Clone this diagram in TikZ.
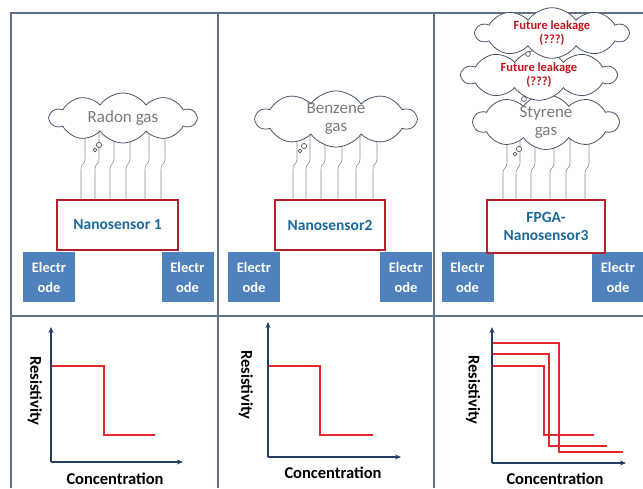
\documentclass[tikz,border=0pt]{standalone}
\usepackage{fontspec}
\setmainfont{Carlito}
\usetikzlibrary{shapes.symbols,arrows.meta,backgrounds}
\definecolor{framec}{HTML}{5F7285}
\definecolor{elec}{HTML}{4F81BD}
\definecolor{boxred}{HTML}{B3202A}
\definecolor{nanotxt}{HTML}{1B6A9E}
\definecolor{gastxt}{HTML}{7A7A7A}
\definecolor{cloudline}{HTML}{4A5668}
\definecolor{plotred}{HTML}{E5262C}
\definecolor{axisc}{HTML}{243F66}
\definecolor{leak}{HTML}{C0141B}
\definecolor{wirec}{HTML}{8C8C8C}
\begin{document}
\begin{tikzpicture}[x=1pt,y=-1pt,
  frame/.style={draw=framec,line width=1.2pt},
  cloudnode/.style={cloud,cloud puffs=10,cloud puff arc=110,cloud ignores aspect,draw=cloudline,line width=0.8pt,fill=white,
    text=gastxt,font=\fontsize{17}{18}\selectfont,inner sep=0pt,align=center},
  leaknode/.style={cloudnode,text=leak,font=\bfseries\fontsize{12.5}{14}\selectfont},
  bubble/.style={draw=cloudline,line width=0.7pt,fill=white},
  sensor/.style={draw=boxred,line width=2.2pt,fill=white,text=nanotxt,
    font=\bfseries\fontsize{15.5}{18}\selectfont,align=center,inner sep=0pt},
  electrode/.style={fill=elec,text=white,font=\bfseries\fontsize{14.5}{20}\selectfont,
    minimum width=52pt,minimum height=50pt,inner sep=0pt,align=center},
  wire/.style={draw=wirec,line width=0.6pt},
  axis/.style={draw=axisc,line width=1.3pt,-{Stealth[length=6pt,width=5pt]}},
  curve/.style={draw=plotred,line width=2.4pt},
  axlabel/.style={font=\bfseries\fontsize{16.5}{18}\selectfont,inner sep=0pt}]
\useasboundingbox (0,0) rectangle (643,488);

% frame
\draw[frame] (11,488) -- (11,13) -- (643,13);
\draw[frame] (218,13) -- (218,488);
\draw[frame] (434,13) -- (434,488);
\draw[frame] (11,316) -- (643,316);

% ---------- panel 1 ----------
\node[cloudnode,minimum width=146pt,minimum height=50pt] (c1) at (123,118) {Radon gas};
\draw[bubble] (99,145) circle (2.6);
\draw[bubble] (95,150) circle (1.8);
\node[electrode] (e1l) at (49,277) {Electr\\ode};
\node[electrode] (e1r) at (187.5,277) {Electr\\ode};
\node[sensor,minimum width=121pt,minimum height=50pt] (s1) at (117.5,225) {Nanosensor 1};
\begin{scope}[on background layer]
\foreach \x in {85,99,114,130,149,165}
  \draw[wire] (\x,0 |- c1.center) -- (\x,158) .. controls (\x,166) and ({\x-4},162) .. ({\x-4},170) -- ({\x-4},0 |- s1.north);
\end{scope}

% ---------- panel 2 ----------
\node[cloudnode,minimum width=160pt,minimum height=50pt] (c2) at (336,119) {Benzene\\gas};
\draw[bubble] (304,146) circle (2.6);
\draw[bubble] (300,151) circle (1.8);
\node[electrode] (e2l) at (254,277) {Electr\\ode};
\node[electrode] (e2r) at (406,277) {Electr\\ode};
\node[sensor,minimum width=110pt,minimum height=50pt] (s2) at (330,225) {Nanosensor2};
\begin{scope}[on background layer]
\foreach \x in {297,310,325,342,360,377}
  \draw[wire] (\x,0 |- c2.center) -- (\x,158) .. controls (\x,166) and ({\x-4},162) .. ({\x-4},170) -- ({\x-4},0 |- s2.north);
\end{scope}

% ---------- panel 3 ----------
\node[cloudnode,minimum width=145pt,minimum height=50pt] (c3) at (546,122) {Styrene\\gas};
\draw[bubble] (519,149) circle (2.6);
\draw[bubble] (515,154) circle (1.8);
\node[leaknode,minimum width=154pt,minimum height=44pt] (f2) at (539,75) {Future leakage\\(???)};
\draw[bubble] (524,99) circle (2.4);
\node[leaknode,minimum width=152pt,minimum height=40pt] (f1) at (552,33) {Future leakage\\(???)};
\draw[bubble] (528,54) circle (2.4);
\node[electrode] (e3l) at (467.5,277) {Electr\\ode};
\node[electrode] (e3r) at (618,277) {Electr\\ode};
\node[sensor,minimum width=118pt,minimum height=53pt] (s3) at (546,226.5) {FPGA-\\Nanosensor3};
\begin{scope}[on background layer]
\foreach \x in {507,520,535,554,570,589}
  \draw[wire] (\x,0 |- c3.center) -- (\x,162) .. controls (\x,170) and ({\x-4},166) .. ({\x-4},174) -- ({\x-4},0 |- s3.north);
\end{scope}

% ---------- plots ----------
% plot 1
\coordinate (o1) at (51,462);
\coordinate (y1) at (51,327);
\coordinate (x1) at (183,462);
\draw[curve] (51,366) -- (104,366) -- (104,435) -- (155,435);
\draw[axis] (o1) -- (y1);
\draw[axis] (o1) -- (x1);
\node[axlabel,rotate=-90] (r1) at (35,391) {Resistivity};
\node[axlabel] (k1) at (115,479) {Concentration};

% plot 2
\coordinate (o2) at (268,457);
\coordinate (y2) at (268,322);
\coordinate (x2) at (401,457);
\draw[curve] (268,366) -- (320,366) -- (320,435) -- (373,435);
\draw[axis] (o2) -- (y2);
\draw[axis] (o2) -- (x2);
\node[axlabel,rotate=-90] (r2) at (246,385) {Resistivity};
\node[axlabel] (k2) at (333,473) {Concentration};

% plot 3
\coordinate (o3) at (492,463);
\coordinate (y3) at (492,327);
\coordinate (x3) at (626,463);
\draw[curve] (492,343) -- (559,343) -- (559,452) -- (623,452);
\draw[curve] (492,354) -- (549,354) -- (549,446) -- (607,446);
\draw[curve] (492,366) -- (544,366) -- (544,435) -- (594,435);
\draw[axis] (o3) -- (y3);
\draw[axis] (o3) -- (x3);
\node[axlabel,rotate=-90] (r3) at (473,390) {Resistivity};
\node[axlabel] (k3) at (555,479) {Concentration};
\end{tikzpicture}
\end{document}
